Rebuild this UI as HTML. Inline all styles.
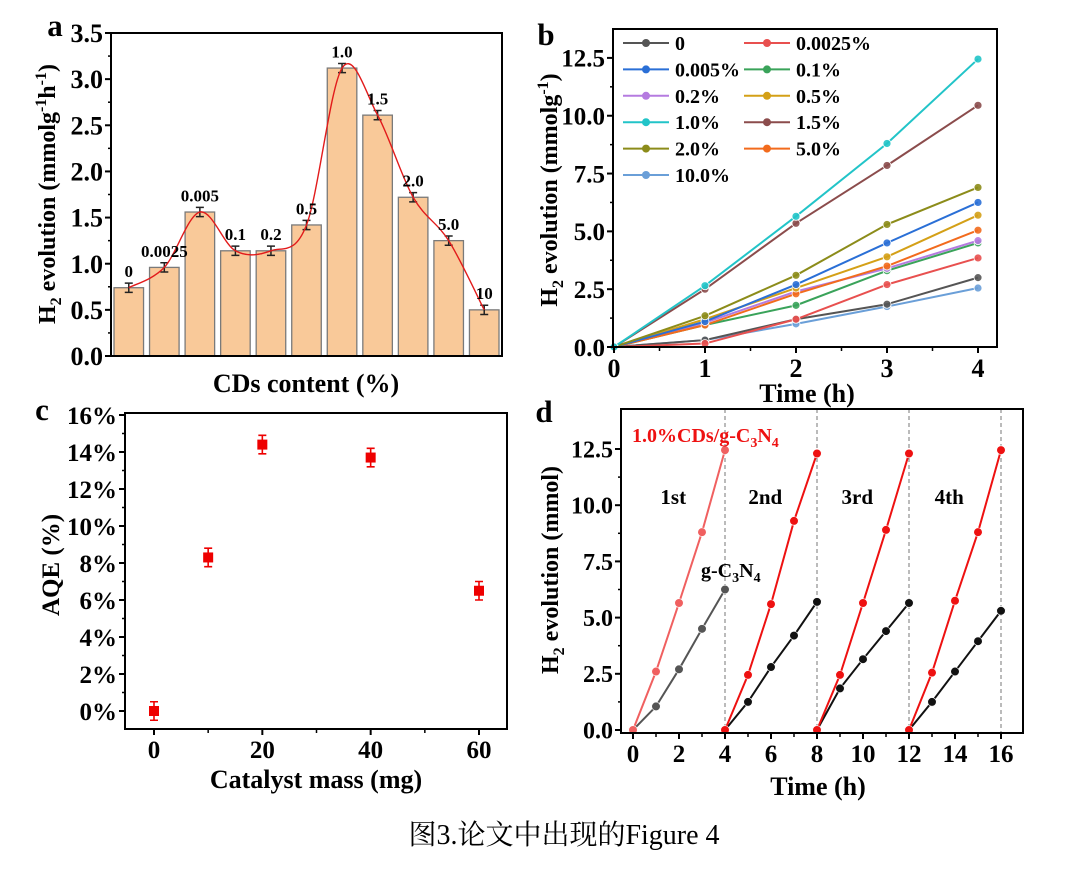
<!DOCTYPE html>
<html><head><meta charset="utf-8">
<style>
html,body{margin:0;padding:0;background:#fff;}
svg{display:block;font-family:"Liberation Serif","Noto Serif CJK SC",serif;}
</style></head>
<body>
<svg id="fig" width="1080" height="869" viewBox="0 0 1080 869" xmlns="http://www.w3.org/2000/svg">
<text x="564" y="844" font-size="28" text-anchor="middle" font-family="Liberation Serif, Noto Serif CJK SC, serif">图3.论文中出现的Figure 4</text>
</svg>
<script>
// ---- Panel a data ----
const aCategories = ["0","0.0025","0.005","0.1","0.2","0.5","1.0","1.5","2.0","5.0","10"];
const aValues = [0.74,0.96,1.56,1.14,1.14,1.42,3.12,2.61,1.72,1.25,0.50];
const aErrors = [0.05,0.05,0.05,0.05,0.05,0.05,0.05,0.05,0.05,0.05,0.05];
const aTicks = [0,0.5,1,1.5,2,2.5,3,3.5];
const aTickLabels = ["0.0","0.5","1.0","1.5","2.0","2.5","3.0","3.5"];
// ---- Panel b data ----
const bTimes = [0,1,2,3,4];
const bNames = ["0","0.0025%","0.005%","0.1%","0.2%","0.5%","1.0%","1.5%","2.0%","5.0%","10.0%"];
const bS0 = [0,0.3,1.2,1.85,3.0];
const bS1 = [0,0.15,1.2,2.7,3.85];
const bS2 = [0,1.1,2.7,4.5,6.25];
const bS3 = [0,0.95,1.8,3.3,4.5];
const bS4 = [0,1.05,2.4,3.4,4.6];
const bS5 = [0,1.2,2.55,3.9,5.7];
const bS6 = [0,2.65,5.65,8.8,12.45];
const bS7 = [0,2.5,5.35,7.85,10.45];
const bS8 = [0,1.35,3.1,5.3,6.9];
const bS9 = [0,0.95,2.3,3.5,5.05];
const bS10 = [0,0.3,1.0,1.75,2.55];
const bYTicks = [0,2.5,5,7.5,10,12.5];
const bYTickLabels = ["0.0","2.5","5.0","7.5","10.0","12.5"];
const bXTicks = [0,1,2,3,4];
// ---- Panel c data ----
const cMass = [0,10,20,40,60];
const cAQE = [0,8.3,14.4,13.7,6.5];
const cErr = [0.5,0.5,0.5,0.5,0.5];
const cYTicks = [0,2,4,6,8,10,12,14,16];
const cXTicks = [0,20,40,60];
// ---- Panel d data ----
const dCycleStart = [0,4,8,12];
const dRed1 = [0,2.6,5.65,8.8,12.45];
const dRed2 = [0,2.45,5.6,9.3,12.3];
const dRed3 = [0,2.45,5.65,8.9,12.3];
const dRed4 = [0,2.55,5.75,8.8,12.45];
const dBlk1 = [0,1.05,2.7,4.5,6.25];
const dBlk2 = [0,1.25,2.8,4.2,5.7];
const dBlk3 = [0,1.85,3.15,4.4,5.65];
const dBlk4 = [0,1.25,2.6,3.95,5.3];
const dXTicks = [0,2,4,6,8,10,12,14,16];
const dYTicks = [0,2.5,5,7.5,10,12.5];
const dYTickLabels = ["0.0","2.5","5.0","7.5","10.0","12.5"];

const NS="http://www.w3.org/2000/svg";
const svg=document.getElementById('fig');
function mk(tag,attrs,parent){const e=document.createElementNS(NS,tag);for(const k in attrs)e.setAttribute(k,attrs[k]);(parent||svg).appendChild(e);return e;}
function lin(d0,d1,r0,r1){return v=>r0+(v-d0)*(r1-r0)/(d1-d0);}
function txt(x,y,s,size,opts,name){const t=mk('text',Object.assign({x:x,y:y,'font-size':size,'font-weight':'bold','text-anchor':'middle'},opts||{}));t.textContent=s;


return t;}
function box(x0,y0,x1,y1,name){const r=mk('rect',{x:x0,y:y0,width:x1-x0,height:y1-y0,fill:'none',stroke:'#000','stroke-width':2});

}
function yTicks(ticks,labels,sy,x0,size,minor,name){ticks.forEach((v,i)=>{const y=sy(v);mk('line',{x1:x0-6,x2:x0,y1:y,y2:y,stroke:'#000','stroke-width':2});
txt(x0-8,y+size*0.35,labels[i],size,{'text-anchor':'end'},name+'-tick-label');});
if(minor){for(let i=0;i<ticks.length-1;i++){const y=sy((ticks[i]+ticks[i+1])/2);mk('line',{x1:x0-3,x2:x0,y1:y,y2:y,stroke:'#000','stroke-width':1.5});}}}
function xTicks(ticks,labels,sx,y0,size,name){ticks.forEach((v,i)=>{const x=sx(v);mk('line',{x1:x,x2:x,y1:y0,y2:y0+6,stroke:'#000','stroke-width':2});
txt(x,y0+size+4,labels[i],size,{},name+'-tick-label');});
for(let i=0;i<ticks.length-1;i++){const x=sx((ticks[i]+ticks[i+1])/2);mk('line',{x1:x,x2:x,y1:y0,y2:y0+4,stroke:'#000','stroke-width':1.5});}}
function catmull(pts){let d='M'+pts[0][0]+','+pts[0][1];for(let i=0;i<pts.length-1;i++){const p0=pts[Math.max(0,i-1)],p1=pts[i],p2=pts[i+1],p3=pts[Math.min(pts.length-1,i+2)];
const c1=[p1[0]+(p2[0]-p0[0])/6,p1[1]+(p2[1]-p0[1])/6],c2=[p2[0]-(p3[0]-p1[0])/6,p2[1]-(p3[1]-p1[1])/6];d+=' C'+c1+' '+c2+' '+p2;}return d;}

// ===== Panel a =====
(function(){const X0=111,X1=502,Y0=33,Y1=356;const sy=lin(0,3.5,Y1,Y0);const bw=(X1-X0)/aValues.length;
const g=mk('g',{});


const tops=[];
aValues.forEach((v,i)=>{const x=X0+i*bw+3;const r=mk('rect',{x:x,y:sy(v),width:bw-6,height:Y1-sy(v),fill:'#f9c999',stroke:'#7a7a7a','stroke-width':1.3},g);


const cx=X0+(i+0.5)*bw;tops.push([cx,sy(v)]);
const e1=sy(v+aErrors[i]),e2=sy(v-aErrors[i]);
mk('path',{d:`M${cx},${e1}V${e2}M${cx-4},${e1}H${cx+4}M${cx-4},${e2}H${cx+4}`,stroke:'#222','stroke-width':1.5,fill:'none'},g);
txt(cx,e1-6,aCategories[i],17,{},'bar-label-'+aCategories[i]);});
const c=mk('path',{d:catmull(tops),fill:'none',stroke:'#e21b1b','stroke-width':1.4},g);


box(X0,Y0,X1,Y1,'panel-a-frame');
yTicks(aTicks,aTickLabels,sy,X0,26,true,'a-y');
txt(55,36,'a',31,{},'panel-a-letter');
const yl=txt(0,0,'',24,{transform:`translate(55,194) rotate(-90)`},'a-y-axis-title');
yl.innerHTML='H<tspan font-size="16" dy="6">2</tspan><tspan dy="-6"> evolution (mmolg</tspan><tspan font-size="16" dy="-9">-1</tspan><tspan dy="9">h</tspan><tspan font-size="16" dy="-9">-1</tspan><tspan dy="9">)</tspan>';
txt(306,392,'CDs content (%)',26,{},'a-x-axis-title');})();

// ===== Panel b =====
(function(){const X0=613,X1=997,Y0=29,Y1=347;const sx=lin(0,4,614,978),sy=lin(0,13.75,Y1,Y0);
const series=[bS0,bS1,bS2,bS3,bS4,bS5,bS6,bS7,bS8,bS9,bS10];
const colors=['#555555','#e8504f','#2a6fd6','#3aa35a','#b57be0','#d4a017','#22c4c8','#8b4c4c','#8c8c1a','#f26b1d','#6a9fd8'];
const order=[10,0,1,3,4,9,5,2,8,7,6];
order.forEach(i=>{const s=series[i];const pts=s.map((v,k)=>[sx(bTimes[k]),sy(v)]);
const p=mk('polyline',{points:pts.join(' '),fill:'none',stroke:colors[i],'stroke-width':2});


pts.forEach(q=>mk('circle',{cx:q[0],cy:q[1],r:4,fill:colors[i],stroke:'#fff','stroke-width':0.8,'fill-opacity':0.9}));});
box(X0,Y0,X1,Y1,'panel-b-frame');
yTicks(bYTicks,bYTickLabels,sy,X0,25,true,'b-y');
xTicks(bXTicks,bXTicks.map(String),sx,Y1,26,'b-x');
bNames.forEach((n,i)=>{const col=i%2,row=Math.floor(i/2);const lx=col?744:623,ly=43+row*26.4;
const g=mk('g',{});


mk('line',{x1:lx,x2:lx+46,y1:ly,y2:ly,stroke:colors[i],'stroke-width':2},g);
mk('circle',{cx:lx+23,cy:ly,r:4,fill:colors[i]},g);
txt(lx+52,ly+7,n,20,{'text-anchor':'start'},'legend-label-'+n);});
txt(546,45,'b',31,{},'panel-b-letter');
const yl=txt(0,0,'',24,{transform:`translate(557,190) rotate(-90)`},'b-y-axis-title');
yl.innerHTML='H<tspan font-size="16" dy="6">2</tspan><tspan dy="-6"> evolution (mmolg</tspan><tspan font-size="16" dy="-9">-1</tspan><tspan dy="9">)</tspan>';
txt(807,402,'Time (h)',26,{},'b-x-axis-title');})();

// ===== Panel c =====
(function(){const X0=125,X1=507,Y0=413,Y1=729;const sx=lin(0,60,154,479),sy=lin(0,16,711,415);
box(X0,Y0,X1,Y1,'panel-c-frame');
yTicks(cYTicks,cYTicks.map(v=>v+'%'),sy,X0,25,true,'c-y');
xTicks(cXTicks,cXTicks.map(String),sx,Y1,25,'c-x');
cMass.forEach((m,i)=>{const x=sx(m),y=sy(cAQE[i]),e1=sy(cAQE[i]+cErr[i]),e2=sy(cAQE[i]-cErr[i]);
mk('path',{d:`M${x},${e1}V${e2}M${x-4},${e1}H${x+4}M${x-4},${e2}H${x+4}`,stroke:'#e00','stroke-width':1.6,fill:'none'});
const r=mk('rect',{x:x-5,y:y-5,width:10,height:10,fill:'#e00'});

});
txt(42,420,'c',31,{},'panel-c-letter');
txt(0,0,'AQE (%)',25,{transform:'translate(59,565) rotate(-90)'},'c-y-axis-title');
txt(316,788,'Catalyst mass (mg)',26,{},'c-x-axis-title');})();

// ===== Panel d =====
(function(){const X0=621,X1=1023,Y0=409,Y1=733;const sx=lin(0,16,633,1001),sy=lin(0,12.5,730,449);
dCycleStart.slice(1).concat([16]).forEach(t=>{mk('line',{x1:sx(t),x2:sx(t),y1:Y0,y2:Y1,stroke:'#777','stroke-width':1,'stroke-dasharray':'4,3'});});
const reds=[dRed1,dRed2,dRed3,dRed4],blks=[dBlk1,dBlk2,dBlk3,dBlk4];
function draw(arr,ci,col,name){const pts=arr.map((v,k)=>[sx(dCycleStart[ci]+k),sy(v)]);
const p=mk('polyline',{points:pts.join(' '),fill:'none',stroke:col,'stroke-width':2});


pts.forEach(q=>mk('circle',{cx:q[0],cy:q[1],r:4.3,fill:col,stroke:'#fff','stroke-width':0.6}));}
blks.forEach((a,i)=>draw(a,i,i?'#111':'#555','gc3n4-cycle-'+(i+1)));
reds.forEach((a,i)=>draw(a,i,i?'#ee1111':'#f06060','cds-cycle-'+(i+1)));
box(X0,Y0,X1,Y1,'panel-d-frame');
yTicks(dYTicks,dYTickLabels,sy,X0,24,true,'d-y');
xTicks(dXTicks,dXTicks.map(String),sx,Y1,25,'d-x');
['1st','2nd','3rd','4th'].forEach((s,i)=>txt(sx(dCycleStart[i]+1.75),504,s,21,{},'cycle-label-'+s));
const r=txt(632,442,'',20,{'text-anchor':'start',fill:'#ee1111'},'legend-cds');
r.innerHTML='1.0%CDs/g-C<tspan font-size="14" dy="5">3</tspan><tspan dy="-5">N</tspan><tspan font-size="14" dy="5">4</tspan>';
const b=txt(701,577,'',20,{'text-anchor':'start'},'legend-gc3n4');
b.innerHTML='g-C<tspan font-size="14" dy="5">3</tspan><tspan dy="-5">N</tspan><tspan font-size="14" dy="5">4</tspan>';
txt(544,422,'d',31,{},'panel-d-letter');
const yl=txt(0,0,'',24,{transform:`translate(558,570) rotate(-90)`},'d-y-axis-title');
yl.innerHTML='H<tspan font-size="16" dy="6">2</tspan><tspan dy="-6"> evolution (mmol)</tspan>';
txt(818,795,'Time (h)',26,{},'d-x-axis-title');})();
</script>
</body></html>
